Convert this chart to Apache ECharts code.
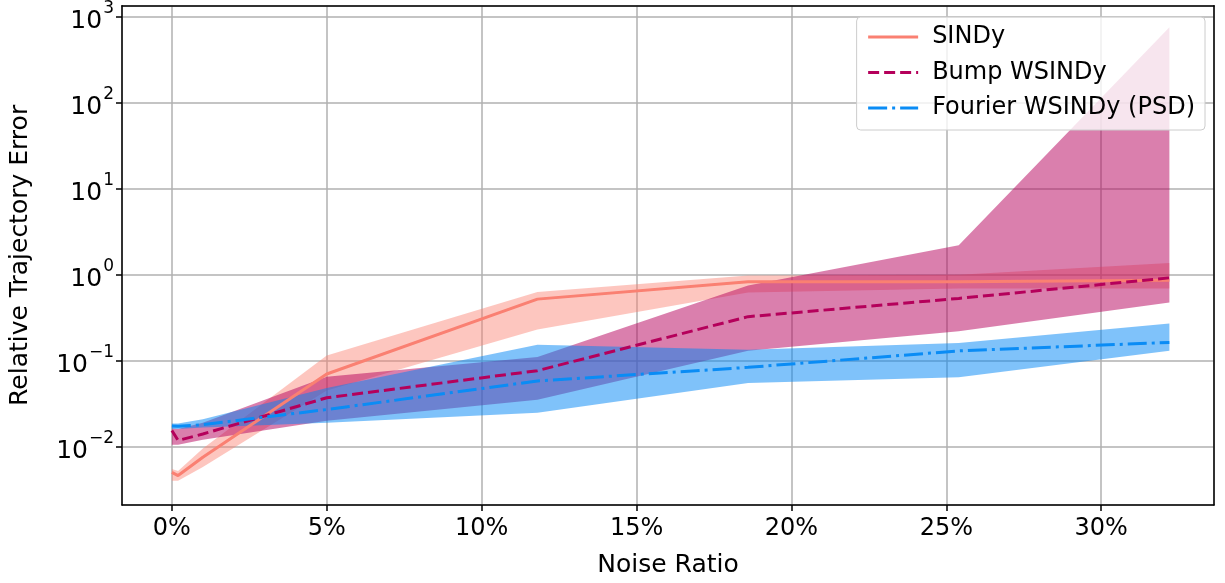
<!DOCTYPE html>
<html>
<head>
<meta charset="utf-8">
<script src="https://cdn.jsdelivr.net/npm/echarts@6/dist/echarts.min.js"></script>
<style>
  html, body { margin: 0; padding: 0; background: #fff; }
  #main { width: 1225px; height: 583px; }
</style>
</head>
<body>
<div id="main"></div>
<script>
  // noise ratio in percent
  var noise = [0, 0.2, 1, 5, 11.8, 18.6, 25.4, 32.2];

  // SINDy
  var sindyMean = [0.0050, 0.0046, 0.0075, 0.070, 0.52, 0.83, 0.83, 0.86];
  var sindyHi   = [0.0055, 0.0052, 0.0095, 0.115, 0.63, 0.98, 1.00, 1.37];
  var sindyLo   = [0.0040, 0.0040, 0.0058, 0.045, 0.23, 0.62, 0.69, 0.69];

  // Bump WSINDy
  var bumpMean = [0.0154, 0.0118, 0.0140, 0.037, 0.0765, 0.325, 0.53, 0.92];
  var bumpHi   = [0.0162, 0.0160, 0.0190, 0.065, 0.110, 0.75, 2.2, 757];
  var bumpLo   = [0.0105, 0.0105, 0.0120, 0.020, 0.035, 0.13, 0.22, 0.475];

  // Fourier WSINDy (PSD)
  var fourierMean = [0.0174, 0.0172, 0.0180, 0.027, 0.058, 0.0836, 0.130, 0.163];
  var fourierHi   = [0.0185, 0.0185, 0.0208, 0.048, 0.153, 0.134, 0.160, 0.27];
  var fourierLo   = [0.0160, 0.0160, 0.0167, 0.019, 0.0248, 0.055, 0.064, 0.13];

  var myChart = echarts.init(document.getElementById("main"));
  var FONT = "DejaVu Sans";
  var X_MIN = -1.61, X_MAX = 33.64, Y_MIN = 0.00209, Y_MAX = 1350;

  function pairs(ys) {
    return noise.map(function (x, i) { return [x, ys[i]]; });
  }

  // 画阴影带（上下界之间的多边形）
  function band(lo, hi, color, z) {
    return {
      type: "custom",
      z: z,
      silent: true,
      data: noise.map(function (x, i) { return [x, lo[i], hi[i]]; }),
      encode: { x: 0, y: [1, 2] },
      renderItem: function (params, api) {
        if (params.dataIndex !== 0) return;
        var pts = [];
        for (var i = 0; i < noise.length; i++) pts.push(api.coord([noise[i], hi[i]]));
        for (var j = noise.length - 1; j >= 0; j--) pts.push(api.coord([noise[j], lo[j]]));
        return { type: "polygon", shape: { points: pts }, style: { fill: color } };
      },
    };
  }

  function line(name, ys, color, dash) {
    return {
      name: name,
      type: "line",
      z: 5,
      symbol: "none",
      data: pairs(ys),
      lineStyle: { color: color, width: 3, type: dash },
      itemStyle: { color: color },
    };
  }

  var frameAxis = {
    axisLine: { show: true, onZero: false, lineStyle: { color: "#000", width: 1.5 } },
    axisTick: { show: false },
    axisLabel: { show: false },
    splitLine: { show: false },
  };

  var option = {
    animation: false,
    grid: { left: 119, right: 11, top: 5, bottom: 75 },
    legend: {
      data: ["SINDy", "Bump WSINDy", "Fourier WSINDy (PSD)"],
      orient: "vertical",
      right: 20,
      top: 17,
      padding: [8, 10, 10, 10],
      itemWidth: 50,
      itemHeight: 14,
      itemGap: 11.5,
      itemStyle: { opacity: 0 },
      lineStyle: { width: 3 },
      backgroundColor: "rgba(255,255,255,0.8)",
      borderColor: "#cccccc",
      borderWidth: 1,
      borderRadius: 4,
      textStyle: { fontFamily: FONT, fontSize: 24, color: "#000", padding: [0, 0, 0, 9] },
    },
    xAxis: [
      {
        type: "value",
        min: X_MIN,
        max: X_MAX,
        splitNumber: 7,
        name: "Noise Ratio",
        nameLocation: "middle",
        nameGap: 48,
        nameTextStyle: { fontFamily: FONT, fontSize: 25, color: "#000" },
        axisLine: { show: true, onZero: false, lineStyle: { color: "#000", width: 1.5 } },
        axisTick: { show: true, inside: false, length: 6, lineStyle: { color: "#000", width: 1.5 } },
        axisLabel: {
          fontFamily: FONT, fontSize: 24, color: "#000", margin: 12,
          showMinLabel: false, showMaxLabel: false,
          formatter: function (v) {
            if (Math.abs(v - Math.round(v)) > 1e-6) return "";
            return v + "%";
          },
        },
        splitLine: { show: true, lineStyle: { color: "#b0b0b0", width: 1.5 } },
      },
      Object.assign({ type: "value", position: "top", min: X_MIN, max: X_MAX }, frameAxis),
    ],
    yAxis: [
      {
        type: "log",
        logBase: 10,
        min: Y_MIN,
        max: Y_MAX,
        splitNumber: 6,
        name: "Relative Trajectory Error",
        nameLocation: "middle",
        nameGap: 89,
        nameTextStyle: { fontFamily: FONT, fontSize: 25, color: "#000" },
        axisLine: { show: true, onZero: false, lineStyle: { color: "#000", width: 1.5 } },
        axisTick: { show: true, inside: false, length: 6, lineStyle: { color: "#000", width: 1.5 } },
        axisLabel: {
          fontFamily: FONT, color: "#000", margin: 8,
          showMinLabel: false, showMaxLabel: false,
          formatter: function (v) {
            var e = Math.log10(v);
            if (Math.abs(e - Math.round(e)) > 1e-3) return "";
            e = Math.round(e);
            return "{b|10}{s|" + (e < 0 ? "\u2212" + (-e) : e) + "}";
          },
          rich: {
            b: { fontFamily: FONT, fontSize: 25, color: "#000", lineHeight: 34, verticalAlign: "bottom" },
            s: { fontFamily: FONT, fontSize: 17, color: "#000", lineHeight: 34, verticalAlign: "top", padding: [0, 0, 0, 1] },
          },
        },
        splitLine: { show: true, lineStyle: { color: "#b0b0b0", width: 1.5 } },
      },
      Object.assign({ type: "log", logBase: 10, position: "right", min: Y_MIN, max: Y_MAX }, frameAxis),
    ],
    series: [
      band(sindyLo, sindyHi, "rgba(250,128,114,0.45)", 1),
      band(bumpLo, bumpHi, "rgba(181,0,91,0.5)", 2),
      band(fourierLo, fourierHi, "rgba(0,133,245,0.5)", 3),
      line("SINDy", sindyMean, "#fa8072", "solid"),
      line("Bump WSINDy", bumpMean, "#b5005b", [11, 5]),
      line("Fourier WSINDy (PSD)", fourierMean, "#0a8cf5", [19, 5, 3, 5]),
    ],
  };

  myChart.setOption(option);
</script>
</body>
</html>
